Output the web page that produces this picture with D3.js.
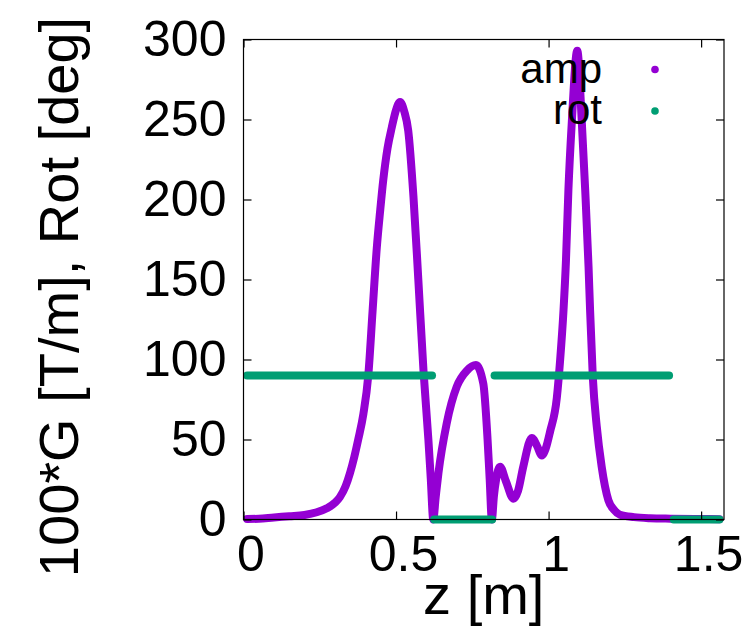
<!DOCTYPE html>
<html>
<head>
<meta charset="utf-8">
<script src="https://cdn.jsdelivr.net/npm/d3@7"></script>
<style>
  body { margin: 0; background: #fff; }
  svg { display: block; }
  text { font-family: "Liberation Sans", Arial, Helvetica, sans-serif; fill: #000; }
</style>
</head>
<body>
<svg id="chart" width="749" height="629"></svg>
<script>
// ---- data ----
const ampZ = [0.012, 0.05, 0.10, 0.15, 0.20, 0.24, 0.273, 0.30, 0.316, 0.335, 0.349, 0.363, 0.376, 0.393, 0.409, 0.423, 0.437, 0.448, 0.458, 0.472, 0.486, 0.500, 0.513, 0.527, 0.540, 0.557, 0.573, 0.590, 0.606, 0.614, 0.622, 0.630, 0.639, 0.666, 0.699, 0.732, 0.762, 0.786, 0.800, 0.807, 0.814, 0.821, 0.828, 0.841, 0.860, 0.885, 0.900, 0.917, 0.945, 0.962, 0.978, 0.990, 1.005, 1.027, 1.038, 1.049, 1.057, 1.065, 1.076, 1.094, 1.109, 1.120, 1.131, 1.136, 1.145, 1.158, 1.174, 1.196, 1.215, 1.234, 1.280, 1.333, 1.400, 1.480, 1.560];
const ampV = [0.3, 0.5, 1.3, 2.0, 2.8, 4.5, 7, 10.5, 14, 21, 29, 39, 50, 66, 90, 130, 170, 193, 212, 232, 245, 256, 261, 255, 243, 202, 150, 93, 50, 25, 0, 14, 29, 60, 83, 93, 96.5, 85, 50, 25, 0, 15, 25, 33, 24, 13, 18, 33, 51, 46, 40, 44, 55, 76, 100, 131, 162, 206, 248, 293, 248, 206, 158, 131, 89, 58, 33, 12, 6, 3, 1.5, 0.8, 0.5, 0.3, 0.2];

const rotSegStart = [0.012, 0.625, 0.823, 1.41];
const rotSegEnd   = [0.618, 0.815, 1.395, 1.56];
const rotSegValue = [90, 0, 90, 0];

const xTicks = [0, 0.5, 1, 1.5];
const xTickLabels = ["0", "0.5", "1", "1.5"];
const yTicks = [0, 50, 100, 150, 200, 250, 300];
const yTickLabels = ["0", "50", "100", "150", "200", "250", "300"];

const seriesNames = ["amp", "rot"];
const seriesColors = ["#9400D3", "#009E73"];
const xTitle = "z [m]";
const yTitle = "100*G [T/m], Rot [deg]";

// ---- layout ----
const svg = d3.select("#chart");
const L = 243.5, R = 724, T = 39.5, B = 519.5;
const FS_TICK = 50, FS_TITLE = 56, FS_KEY = 42;
const x = d3.scaleLinear().domain([0, 1.575]).range([L, R]);
const y = d3.scaleLinear().domain([0, 300]).range([B, T]);

const plot = svg.append("g");
plot.append("clipPath").attr("id", "clip")
  .append("rect").attr("x", L - 6).attr("y", T - 6).attr("width", R - L + 12).attr("height", B - T + 12);

// amp curve
const ampData = ampZ.map((z, i) => ({ z, v: ampV[i] }));
const line = d3.line().x(d => x(d.z)).y(d => y(d.v)).curve(d3.curveMonotoneX);
plot.append("path")
  .datum(ampData)
  .attr("d", line)
  .attr("fill", "none")
  .attr("stroke", seriesColors[0])
  .attr("stroke-width", 8)
  .attr("stroke-linecap", "round")
  .attr("stroke-linejoin", "round")
  .attr("clip-path", "url(#clip)");

// rot segments
plot.selectAll(".rot")
  .data(rotSegStart.map((s, i) => ({ s, e: rotSegEnd[i], v: rotSegValue[i] })))
  .enter().append("line")
  .attr("x1", d => x(d.s)).attr("x2", d => x(d.e))
  .attr("y1", d => y(d.v)).attr("y2", d => y(d.v))
  .attr("stroke", seriesColors[1])
  .attr("stroke-width", 8)
  .attr("stroke-linecap", "round");

// border
svg.append("rect")
  .attr("x", L).attr("y", T).attr("width", R - L).attr("height", B - T)
  .attr("fill", "none").attr("stroke", "#000").attr("stroke-width", 1.2);

// axes (ticks inward, mirrored)
const tl = 8;
const axB = svg.append("g").attr("transform", `translate(0,${B})`)
  .call(d3.axisBottom(x).tickValues(xTicks).tickSizeInner(-tl).tickSizeOuter(0).tickFormat((d, i) => xTickLabels[i]).tickPadding(16));
const axT = svg.append("g").attr("transform", `translate(0,${T})`)
  .call(d3.axisTop(x).tickValues(xTicks).tickSizeInner(-tl).tickSizeOuter(0).tickFormat(""));
const axL = svg.append("g").attr("transform", `translate(${L},0)`)
  .call(d3.axisLeft(y).tickValues(yTicks).tickSizeInner(-tl).tickSizeOuter(0).tickFormat((d, i) => yTickLabels[i]).tickPadding(17));
const axR = svg.append("g").attr("transform", `translate(${R},0)`)
  .call(d3.axisRight(y).tickValues(yTicks).tickSizeInner(-tl).tickSizeOuter(0).tickFormat(""));
[axB, axT, axL, axR].forEach(a => {
  a.select(".domain").remove();
  a.selectAll(".tick line").attr("stroke", "#000").attr("stroke-width", 1.2);
});
[axB, axL].forEach(a => a.selectAll(".tick text")
  .attr("font-size", FS_TICK).attr("font-family", "Liberation Sans, Arial, sans-serif").attr("fill", "#000"));
axB.selectAll(".tick text").attr("dx", 7);

// axis titles
svg.append("text").attr("x", (L + R) / 2).attr("y", 614)
  .attr("text-anchor", "middle").attr("font-size", FS_TITLE).text(xTitle);
svg.append("text").attr("transform", `translate(78,297) rotate(-90)`)
  .attr("text-anchor", "middle").attr("font-size", FS_TITLE).text(yTitle);

// legend
const leg = svg.append("g");
seriesNames.forEach((n, i) => {
  const yy = 69.5 + i * 41.5;
  leg.append("text").attr("x", 602).attr("y", yy + 13).attr("text-anchor", "end")
    .attr("font-size", FS_KEY).text(n);
  leg.append("circle").attr("cx", 655).attr("cy", yy).attr("r", 3.8).attr("fill", seriesColors[i]);
});
</script>
</body>
</html>
